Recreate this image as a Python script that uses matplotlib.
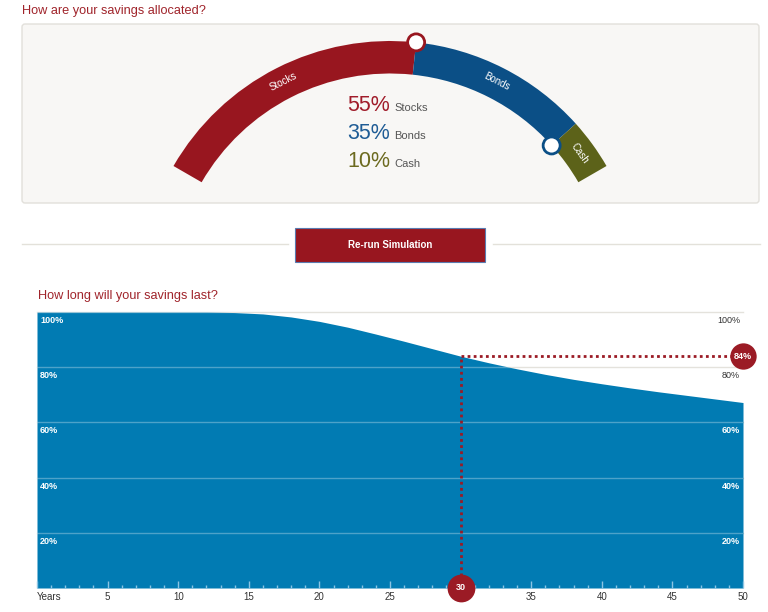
import numpy as np
import matplotlib.pyplot as plt
from matplotlib.patches import Wedge, Circle, FancyBboxPatch, Rectangle

# allocation data
asset_names = ['Stocks', 'Bonds', 'Cash']
asset_pcts = [55, 35, 10]
asset_colors = ['#98161f', '#0b4f86', '#5c6219']
text_colors = ['#a01c2a', '#1f5c95', '#6c6a1f']

# survival curve (years vs % of simulations where savings still last)
years = [0, 5, 10, 12, 14, 16, 18, 20, 22, 24, 26, 28, 30, 32, 34, 36, 38, 40, 42, 44, 46, 48, 50]
success = [100, 100, 100, 100, 99.8, 99.3, 98.2, 96.6, 94.5, 92.0, 89.4, 86.7, 84.0,
           81.6, 79.4, 77.4, 75.6, 74.0, 72.5, 71.1, 69.8, 68.5, 67.2]
y_ticks = [20, 40, 60, 80, 100]
x_ticks = [0, 5, 10, 15, 20, 25, 30, 35, 40, 45, 50]
x_labels = ['Years', '5', '10', '15', '20', '25', '30', '35', '40', '45', '50']
sel_year = 30
sel_value = 84

W, H = 768, 612
RED = '#98161f'
TITLE_RED = '#a0242b'
AREA = '#017bb3'

plt.rcParams['font.family'] = ['Liberation Sans', 'DejaVu Sans']

fig = plt.figure(figsize=(W / 100, H / 100), dpi=100)
bg = fig.add_axes([0, 0, 1, 1])
bg.set_xlim(0, W)
bg.set_ylim(0, H)
bg.axis('off')


def Y(py):
    return H - py


# --- top panel ---
bg.text(22, Y(11), 'How are your savings allocated?', color=TITLE_RED, fontsize=9.2,
        va='center', ha='left')
bg.add_patch(FancyBboxPatch((22, Y(203)), 737, 179, boxstyle='round,pad=0,rounding_size=3',
                            facecolor='#f8f7f5', edgecolor='#e2e0db', linewidth=1))

cx, cy = 390, Y(291)
r_out, r_in = 250, 217.5
start, span = 150, 120
ang = start
bounds = []
for name, pct, col in zip(asset_names, asset_pcts, asset_colors):
    a2 = ang - span * pct / 100
    bg.add_patch(Wedge((cx, cy), r_out, a2, ang, width=r_out - r_in, facecolor=col,
                       edgecolor='none'))
    mid = np.radians((ang + a2) / 2)
    rm = (r_out + r_in) / 2 + 1
    bg.text(cx + rm * np.cos(mid), cy + rm * np.sin(mid), name, color='white', fontsize=7,
            rotation=np.degrees(mid) - 90, ha='center', va='center', rotation_mode='anchor')
    bounds.append(a2)
    ang = a2

# drag handles at the stocks/bonds and bonds/cash boundaries
h1 = np.radians(bounds[0])
bg.add_patch(Circle((cx + r_out * np.cos(h1), cy + r_out * np.sin(h1)), 8.5,
                    facecolor='white', edgecolor=asset_colors[0], linewidth=2, zorder=5))
h2 = np.radians(bounds[1])
bg.add_patch(Circle((cx + r_in * np.cos(h2), cy + r_in * np.sin(h2)), 8.5,
                    facecolor='white', edgecolor=asset_colors[1], linewidth=2, zorder=5))

for i, (name, pct) in enumerate(zip(asset_names, asset_pcts)):
    yy = Y(111 + 28 * i)
    bg.text(390, yy, f'{pct}%', color=text_colors[i], fontsize=15.5, ha='right', va='baseline')
    bg.text(394, yy, name, color='#555555', fontsize=8, ha='left', va='baseline')

# divider + button
bg.plot([22, 288], [Y(244), Y(244)], color='#e3e1da', lw=1)
bg.plot([493, 760], [Y(244), Y(244)], color='#e3e1da', lw=1)
bg.add_patch(Rectangle((295, Y(262)), 190, 34, facecolor=RED, edgecolor='#5a7bb0', lw=0.8))
bg.text(390, Y(245), 'Re-run Simulation', color='white', fontsize=7, ha='center',
        va='center', fontweight='bold')

bg.text(38, Y(296), 'How long will your savings last?', color=TITLE_RED, fontsize=9.2,
        va='center', ha='left')

# --- survival chart ---
ax = fig.add_axes([37 / W, (H - 588) / H, 706 / W, 276 / H])
ax.set_xlim(0, 50)
ax.set_ylim(0, 100)
ax.set_axisbelow(False)
for s in ax.spines.values():
    s.set_visible(False)

for yt in y_ticks:
    ax.axhline(yt, color='#e4e2dc', lw=1, zorder=1, clip_on=False)
poly = ax.fill_between(years, success, 0, color=AREA, lw=0, zorder=2)
clip = poly.get_paths()[0]
for yt in y_ticks:
    ln = ax.axhline(yt, color='white', alpha=0.3, lw=1, zorder=3)
    ln.set_clip_path(clip, transform=ax.transData)

end_val = success[-1]
for yt in y_ticks:
    ax.annotate(f'{yt}%', (0, yt), xytext=(3, -4), textcoords='offset pixels',
                color='white', fontsize=6.5, fontweight='bold', ha='left', va='top', zorder=4)
    col = '#333333' if yt - 4 > end_val else 'white'
    ax.annotate(f'{yt}%', (50, yt), xytext=(-3, -4), textcoords='offset pixels',
                color=col, fontsize=6.5, fontweight='bold' if col == 'white' else 'normal',
                ha='right', va='top', zorder=4)

ax.set_yticks([])
ax.set_xticks(x_ticks)
ax.set_xticklabels(x_labels)
ax.get_xticklabels()[0].set_ha('left')
ax.set_xticks(range(1, 50), minor=True)
ax.tick_params(axis='x', which='major', direction='in', length=5, width=1, color='#8cc4e3',
               labelsize=7, labelcolor='#333333', pad=3)
ax.tick_params(axis='x', which='minor', direction='in', length=2.5, width=1, color='#8cc4e3')

# selected year marker
dot = dict(color='#9b1b25', lw=2, linestyle=(0, (1, 1.2)), zorder=6, clip_on=False)
ax.plot([sel_year, sel_year], [0, sel_value], **dot)
ax.plot([sel_year, 50], [sel_value, sel_value], **dot)
ax.scatter([sel_year], [0], s=400, color='#9b1b25', zorder=7, clip_on=False, lw=0)
ax.text(sel_year, 0, str(sel_year), color='white', fontsize=6.5, fontweight='bold',
        ha='center', va='center', zorder=8, clip_on=False)
ax.scatter([50], [sel_value], s=360, color='#9b1b25', zorder=7, clip_on=False, lw=0)
ax.text(50, sel_value, f'{sel_value}%', color='white', fontsize=6.5, fontweight='bold',
        ha='center', va='center', zorder=8, clip_on=False)

fig.savefig('out.png', dpi=100)
